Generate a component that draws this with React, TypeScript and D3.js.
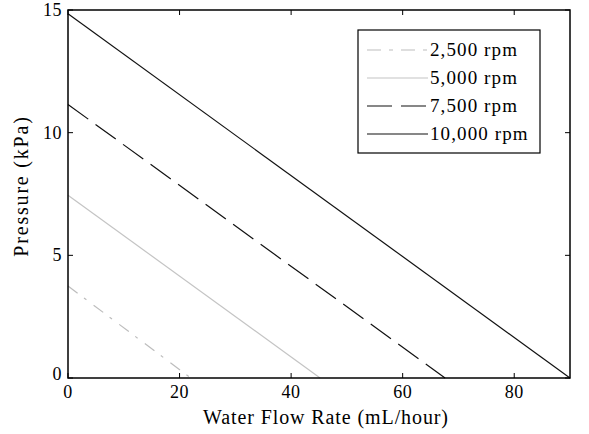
import React, { useEffect, useRef } from "react";
import * as d3 from "d3";

const seriesNames = ["2,500 rpm", "5,000 rpm", "7,500 rpm", "10,000 rpm"];
const startPressure = [3.75, 7.45, 11.15, 14.85];
const maxFlow = [22, 45.2, 67.6, 90];
const xTicks = [0, 20, 40, 60, 80];
const yTicks = [0, 5, 10, 15];

const styles = [
  { color: "#bdbdbd", dash: "12,8,3,9", legendDash: "14,8,4,8" },
  { color: "#c4c4c4", dash: null, legendDash: null },
  { color: "#111", dash: "25,9", legendDash: "25,9" },
  { color: "#111", dash: null, legendDash: null },
];

export default function App() {
  const ref = useRef<SVGSVGElement>(null);
  useEffect(() => {
    const svg = d3.select(ref.current);
    svg.selectAll("*").remove();
    const W = 589, H = 434;
    const m = { l: 68, r: 19, t: 10, b: 56 };
    const x = d3.scaleLinear().domain([0, 90]).range([m.l, W - m.r]);
    const y = d3.scaleLinear().domain([0, 15]).range([H - m.b, m.t]);
    const font = "'Liberation Serif', 'Times New Roman', serif";

    svg.append("rect").attr("width", W).attr("height", H).attr("fill", "#fff");

    const line = d3.line<[number, number]>().x(d => x(d[0])).y(d => y(d[1]));
    seriesNames.forEach((_, i) => {
      const pts: [number, number][] = [[0, startPressure[i]], [maxFlow[i], 0]];
      const p = svg.append("path").attr("d", line(pts)!).attr("fill", "none")
        .attr("stroke", styles[i].color).attr("stroke-width", 1.2);
      if (styles[i].dash) p.attr("stroke-dasharray", styles[i].dash);
    });

    // frame
    const g = svg.append("g");
    g.append("rect").attr("x", x(0)).attr("y", y(15)).attr("width", x(90) - x(0))
      .attr("height", y(0) - y(15)).attr("fill", "none").attr("stroke", "#000").attr("stroke-width", 1.5);
    const tl = 5;
    xTicks.forEach(v => {
      g.append("line").attr("x1", x(v)).attr("x2", x(v)).attr("y1", y(0)).attr("y2", y(0) - tl).attr("stroke", "#000");
      g.append("line").attr("x1", x(v)).attr("x2", x(v)).attr("y1", y(15)).attr("y2", y(15) + tl).attr("stroke", "#000");
      g.append("text").attr("x", x(v)).attr("y", y(0) + 20).attr("text-anchor", "middle")
        .attr("font-family", font).attr("font-size", 18).attr("letter-spacing", 0.5).text(v);
    });
    yTicks.forEach(v => {
      g.append("line").attr("x1", x(0)).attr("x2", x(0) + tl).attr("y1", y(v)).attr("y2", y(v)).attr("stroke", "#000");
      g.append("line").attr("x1", x(90)).attr("x2", x(90) - tl).attr("y1", y(v)).attr("y2", y(v)).attr("stroke", "#000");
      g.append("text").attr("x", x(0) - 6).attr("y", y(v) + (v === 0 ? 2 : 6)).attr("text-anchor", "end")
        .attr("font-family", font).attr("font-size", 18).attr("letter-spacing", 0.5).text(v);
    });
    g.append("text").attr("x", 326).attr("y", 424).attr("text-anchor", "middle")
      .attr("font-family", font).attr("font-size", 20).attr("letter-spacing", 0.9).text("Water Flow Rate (mL/hour)");
    g.append("text").attr("transform", `translate(28,186) rotate(-90)`)
      .attr("text-anchor", "middle").attr("font-family", font).attr("font-size", 20).attr("letter-spacing", 1.8).text("Pressure (kPa)");

    // legend
    const lg = svg.append("g");
    lg.append("rect").attr("x", 358).attr("y", 30).attr("width", 182).attr("height", 123)
      .attr("fill", "#fff").attr("stroke", "#000").attr("stroke-width", 1.2);
    const rows = [50, 78, 106, 134];
    seriesNames.forEach((name, i) => {
      const l = lg.append("line").attr("x1", 367).attr("x2", 428).attr("y1", rows[i]).attr("y2", rows[i])
        .attr("stroke", styles[i].color).attr("stroke-width", 1.2);
      if (styles[i].legendDash) l.attr("stroke-dasharray", styles[i].legendDash);
      lg.append("text").attr("x", 430).attr("y", rows[i] + 6).attr("font-family", font)
        .attr("font-size", 19).attr("letter-spacing", 1.1).text(name);
    });
  }, []);
  return <svg ref={ref} width={589} height={434} style={{ display: "block", position: "absolute", left: 0, top: 0 }} />;
}
